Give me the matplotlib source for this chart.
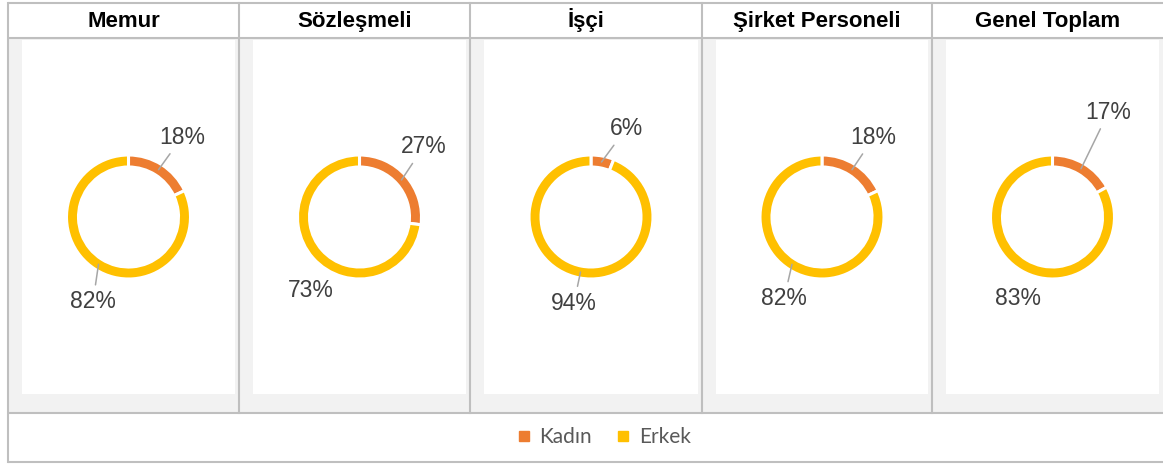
import matplotlib
matplotlib.use('Agg')
import matplotlib.pyplot as plt
from matplotlib.patches import Rectangle
from matplotlib.lines import Line2D
import numpy as np

# ---------------- data ----------------
categories = ['Memur', 'Sözleşmeli', 'İşçi', 'Şirket Personeli', 'Genel Toplam']
series_names = ['Kadın', 'Erkek']
kadin = [18, 27, 6, 18, 17]
erkek = [82, 73, 94, 82, 83]

# ---------------- style / layout ----------------
colors = ['#ED7D31', '#FFC000']
border = '#BFBFBF'
panel_grey = '#F2F2F2'
label_color = '#404040'
leader_color = '#A6A6A6'

# label placement: (angle nudge in degrees from wedge mid-angle, distance in px)
label_layout = [
    [(-1.4, 96), (9.7, 92)],
    [(6.2, 95), (14.7, 88)],
    [(-10.9, 95), (-0.4, 88)],
    [(-0.6, 95), (7.5, 90)],
    [(2.5, 119), (7.8, 88)],
]
show_leader = [[True, True], [True, False], [True, True], [True, True], [True, False]]

label_font = ['Liberation Sans Narrow', 'Liberation Sans', 'DejaVu Sans']
title_font = ['Liberation Sans', 'DejaVu Sans']
legend_font = ['Lato', 'DejaVu Sans']

W, H = 1163, 465
fig = plt.figure(figsize=(W / 100, H / 100), dpi=100)
fig.patch.set_facecolor('white')

bg = fig.add_axes([0, 0, 1, 1])
bg.set_xlim(0, W)
bg.set_ylim(H, 0)
bg.axis('off')

col_edges = [8, 239, 470, 702, 932, 1163]
top, head_bot, panel_bot, bottom = 3, 38, 413, 462
white_top, white_bot = 40, 394

# grey panel band
bg.add_patch(Rectangle((col_edges[0], head_bot), col_edges[-1] - col_edges[0],
                       panel_bot - head_bot, facecolor=panel_grey, edgecolor='none', zorder=0))
for i in range(len(categories)):
    x0 = col_edges[i] + 14
    x1 = col_edges[i + 1] - 4
    bg.add_patch(Rectangle((x0, white_top), x1 - x0, white_bot - white_top,
                           facecolor='white', edgecolor='none', zorder=1))

lw_b = 1.5
for y in (top, head_bot, panel_bot, bottom):
    bg.plot([col_edges[0], W], [y, y], color=border, lw=lw_b, zorder=3, solid_capstyle='butt')
bg.plot([col_edges[0], col_edges[0]], [top, bottom], color=border, lw=lw_b, zorder=3)
for x in col_edges[1:-1]:
    bg.plot([x, x], [top, panel_bot], color=border, lw=lw_b, zorder=3)

# titles
for i, cat in enumerate(categories):
    cx = (col_edges[i] + col_edges[i + 1]) / 2
    bg.text(cx, 27, cat, ha='center', va='baseline', fontsize=16, fontweight='bold',
            family=title_font, color='black', zorder=4)

# donuts
R_OUT, RING = 62, 12
for i, cat in enumerate(categories):
    x0 = col_edges[i] + 14
    x1 = col_edges[i + 1] - 4
    w, h = x1 - x0, white_bot - white_top
    ax = fig.add_axes([x0 / W, 1 - white_bot / H, w / W, h / H])
    ax.patch.set_alpha(0)
    vals = [kadin[i], erkek[i]]
    wedges, _ = ax.pie(vals, colors=colors, startangle=90, counterclock=False,
                       radius=R_OUT, wedgeprops=dict(width=RING, edgecolor='white', linewidth=2.2))
    ax.set_xlim(-w / 2, w / 2)
    ax.set_ylim(-h / 2, h / 2)
    ax.set_aspect('auto')
    ax.axis('off')
    for j, wdg in enumerate(wedges):
        mid = (wdg.theta1 + wdg.theta2) / 2
        nudge, dist = label_layout[i][j]
        ang = np.deg2rad(mid + nudge)
        tx, ty = dist * np.cos(ang), dist * np.sin(ang)
        rm = R_OUT - RING / 2
        px, py = rm * np.cos(np.deg2rad(mid)), rm * np.sin(np.deg2rad(mid))
        txt = f'{vals[j]}%'
        if show_leader[i][j]:
            ax.annotate(txt, xy=(px, py), xytext=(tx, ty), ha='center', va='center',
                        fontsize=16.5, family=label_font, color=label_color,
                        arrowprops=dict(arrowstyle='-', color=leader_color, lw=1.1,
                                        shrinkA=2, shrinkB=0))
        else:
            ax.text(tx, ty, txt, ha='center', va='center', fontsize=16.5,
                    family=label_font, color=label_color)

# legend
handles = [Line2D([], [], marker='s', linestyle='none', markersize=6.5,
                  markerfacecolor=c, markeredgecolor=c) for c in colors]
fig.legend(handles, series_names, loc='center', bbox_to_anchor=(604 / W, 1 - 437 / H),
           ncol=2, frameon=False, handlelength=0.6, handletextpad=0.45, columnspacing=1.2,
           prop={'family': legend_font, 'size': 15}, labelcolor='#595959')

fig.savefig('out.png', dpi=100, facecolor='white')
